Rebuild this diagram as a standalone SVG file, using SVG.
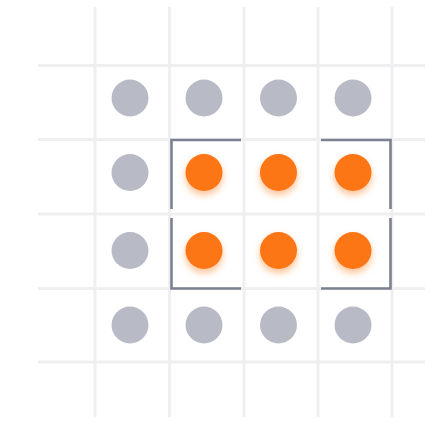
<svg xmlns="http://www.w3.org/2000/svg" width="425" height="423" viewBox="0 0 425 423">
<defs>
<style>
.grid line{stroke:#efeff1;stroke-width:3}
.off{fill:#b8bbc5}
.on{fill:#fd7619;filter:url(#glow)}
.br{fill:none;stroke:#7b8190;stroke-width:2.6}
</style>
<filter id="glow" x="-60%" y="-60%" width="220%" height="240%">
<feDropShadow dx="0" dy="4" stdDeviation="3.5" flood-color="#fd7619" flood-opacity="0.45"/>
</filter>
</defs>
<rect width="425" height="423" fill="#ffffff"/>
<g class="grid" id="grid">
<line x1="95" y1="7" x2="95" y2="417"/>
<line x1="169.5" y1="7" x2="169.5" y2="417"/>
<line x1="244" y1="7" x2="244" y2="417"/>
<line x1="318" y1="7" x2="318" y2="417"/>
<line x1="392" y1="7" x2="392" y2="417"/>
<line x1="38" y1="65.5" x2="425" y2="65.5"/>
<line x1="38" y1="139.5" x2="425" y2="139.5"/>
<line x1="38" y1="214" x2="425" y2="214"/>
<line x1="38" y1="288.5" x2="425" y2="288.5"/>
<line x1="38" y1="362" x2="425" y2="362"/>
</g>
<g id="dots">
<circle class="off" cx="130" cy="98" r="18.5"/>
<circle class="off" cx="204" cy="98" r="18.5"/>
<circle class="off" cx="278.5" cy="98" r="18.5"/>
<circle class="off" cx="353" cy="98" r="18.5"/>
<circle class="off" cx="130" cy="172.5" r="18.5"/>
<circle class="on" cx="204" cy="172.5" r="18.5"/>
<circle class="on" cx="278.5" cy="172.5" r="18.5"/>
<circle class="on" cx="353" cy="172.5" r="18.5"/>
<circle class="off" cx="130" cy="250.5" r="18.5"/>
<circle class="on" cx="204" cy="250.5" r="18.5"/>
<circle class="on" cx="278.5" cy="250.5" r="18.5"/>
<circle class="on" cx="353" cy="250.5" r="18.5"/>
<circle class="off" cx="130" cy="325" r="18.5"/>
<circle class="off" cx="204" cy="325" r="18.5"/>
<circle class="off" cx="278.5" cy="325" r="18.5"/>
<circle class="off" cx="353" cy="325" r="18.5"/>
</g>
<g id="brackets">
<path class="br" d="M171.5,209 V140 H241"/>
<path class="br" d="M321,140 H390.5 V209"/>
<path class="br" d="M171.5,218 V288.5 H241"/>
<path class="br" d="M321,288.5 H390.5 V218"/>
</g>
</svg>
